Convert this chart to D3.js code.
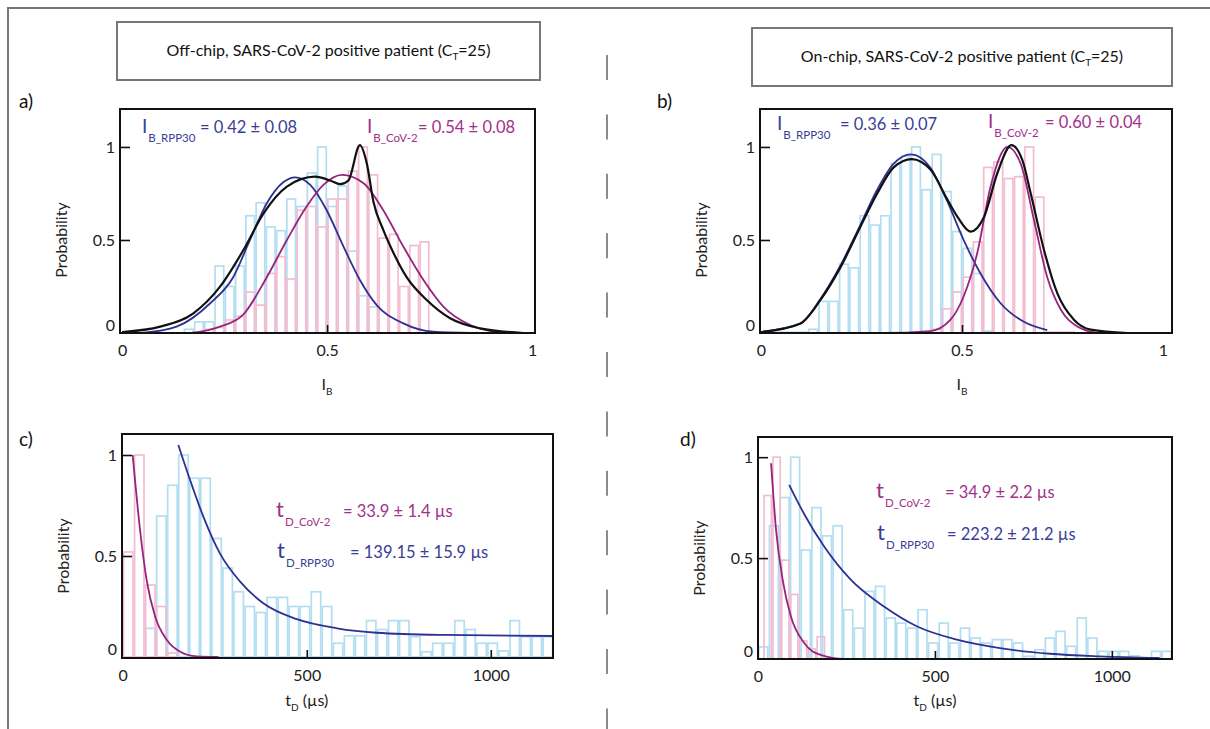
<!DOCTYPE html>
<html>
<head>
<meta charset="utf-8">
<script src="https://cdn.jsdelivr.net/npm/d3@7"></script>
<style>
  body { margin: 0; background: #fff; }
  svg { display: block; font-family: Lato, "Open Sans", sans-serif; }
</style>
</head>
<body>
<div id="wrapper"></div>
<script>
// ---------- data ----------
const ibTicks = [0, 0.5, 1]
const tdTicks = [0, 500, 1000]
const probTicks = [0, 0.5, 1]

// a) off-chip, blockage current I_B (bin 0.025)
const aBinWidth = 0.025
const aRppStart = 0.15
const aRppHist = [0.02, 0.06, 0.06, 0.36, 0.25, 0.36, 0.63, 0.70, 0.57, 0.55, 0.72, 0.68, 0.86, 1.00, 0.68, 0.79, 0.44, 0.20, 0.14]
const aCovStart = 0.2
const aCovHist = [0.02, 0.03, 0.07, 0.09, 0.22, 0.15, 0.32, 0.41, 0.29, 0.66, 0.68, 0.57, 0.72, 0.72, 0.87, 1.00, 0.85, 0.51, 0.53, 0.25, 0.47, 0.49]
const aRppFit = [[0.048, 0], [0.133, 0.034], [0.215, 0.16], [0.271, 0.30], [0.312, 0.5], [0.353, 0.697], [0.393, 0.81], [0.422, 0.837], [0.459, 0.796], [0.499, 0.66], [0.54, 0.464], [0.58, 0.285], [0.621, 0.15], [0.686, 0.052], [0.759, 0.007], [0.853, 0]]
const aCovFit = [[0.17, 0], [0.239, 0.034], [0.296, 0.1], [0.353, 0.3], [0.402, 0.5], [0.45, 0.68], [0.491, 0.796], [0.536, 0.85], [0.589, 0.805], [0.637, 0.66], [0.686, 0.464], [0.735, 0.285], [0.784, 0.141], [0.849, 0.043], [0.926, 0]]
const aSumFit = [[0, 0.005], [0.093, 0.034], [0.174, 0.106], [0.239, 0.249], [0.296, 0.446], [0.345, 0.643], [0.402, 0.787], [0.471, 0.84], [0.507, 0.82], [0.532, 0.80], [0.552, 0.82], [0.58, 1.01], [0.597, 0.91], [0.613, 0.706], [0.637, 0.554], [0.662, 0.43], [0.694, 0.30], [0.743, 0.177], [0.8, 0.079], [0.873, 0.025], [0.979, 0]]

// b) on-chip, I_B
const bBinWidth = 0.0256
const bRppStart = 0.0144
const bRppHist = [0.004, 0.004, 0.004, 0.004, 0.02, 0.17, 0.17, 0.37, 0.35, 0.63, 0.58, 0.63, 0.91, 0.95, 1.00, 0.77, 0.96, 0.76, 0.545, 0.455, 0.32, 0.01]
const bCovStart = 0.424
const bCovHist = [0.02, 0.13, 0.22, 0.30, 0.49, 0.89, 0.92, 0.83, 0.84, 1.00, 0.73, 0.005, 0.005, 0.005]
const bRppFit = [[0.002, 0.006], [0.097, 0.05], [0.147, 0.18], [0.197, 0.36], [0.247, 0.58], [0.289, 0.77], [0.33, 0.91], [0.373, 0.96], [0.421, 0.89], [0.463, 0.71], [0.504, 0.5], [0.546, 0.32], [0.596, 0.16], [0.654, 0.06], [0.712, 0.016]]
const bCovFit = [[0, 0], [0.3, 0], [0.421, 0.01], [0.471, 0.07], [0.504, 0.196], [0.538, 0.43], [0.571, 0.786], [0.613, 1.0], [0.646, 0.91], [0.679, 0.607], [0.712, 0.30], [0.746, 0.125], [0.787, 0.035], [0.837, 0]]
const bSumFit = [[0, 0.005], [0.097, 0.05], [0.147, 0.175], [0.197, 0.35], [0.247, 0.57], [0.289, 0.75], [0.33, 0.89], [0.375, 0.935], [0.421, 0.88], [0.463, 0.72], [0.49, 0.62], [0.521, 0.545], [0.555, 0.625], [0.588, 0.86], [0.623, 1.01], [0.65, 0.93], [0.671, 0.75], [0.704, 0.446], [0.737, 0.214], [0.779, 0.07], [0.82, 0.018], [0.912, 0]]

// c) off-chip, dwell time t_D in µs (bin 30 µs)
const cBinWidth = 30
const cRppStart = 60
const cRppHist = [0.142, 0.698, 0.85, 1.00, 0.885, 0.885, 0.587, 0.44, 0.323, 0.25, 0.22, 0.295, 0.295, 0.25, 0.25, 0.323, 0.25, 0.068, 0.105, 0.105, 0.18, 0.136, 0.18, 0.18, 0.1, 0.026, 0.068, 0.068, 0.18, 0.136, 0.068, 0.068, 0.03, 0.18, 0.1, 0.1, 0.1]
const cCovStart = 0
const cCovHist = [0.52, 1.00, 0.356, 0.25, 0.02]
const cCovFit = [[27, 1.0], [47, 0.63], [65, 0.38], [88, 0.2], [120, 0.084], [156, 0.026], [201, 0.003], [260, 0]]
const cRppFit = [[151, 1.05], [183, 0.876], [219, 0.695], [264, 0.513], [319, 0.373], [382, 0.266], [473, 0.187], [582, 0.142], [690, 0.12], [871, 0.109], [1170, 0.104]]

// d) on-chip, t_D
const dBinWidth = 30
const dRppStart = 0
const dRppHist = [0.06, 0.66, 0.80, 1.00, 0.54, 0.75, 0.61, 0.66, 0.244, 0.153, 0.335, 0.36, 0.203, 0.178, 0.153, 0.244, 0.079, 0.178, 0.079, 0.153, 0.104, 0.079, 0.096, 0.096, 0.079, 0.013, 0.046, 0.104, 0.137, 0.063, 0.203, 0.104, 0.038, 0.038, 0.038, 0.016, 0.005, 0.038, 0.038]
const dCovBinWidth = 25
const dCovStart = 15
const dCovHist = [0.81, 1.00, 0.49, 0.32, 0.09, 0.05, 0.11]
const dCovFit = [[37, 0.97], [51, 0.64], [70, 0.39], [93, 0.21], [130, 0.08], [177, 0.02], [243, 0], [755, 0]]
const dRppFit = [[88, 0.863], [130, 0.72], [187, 0.557], [262, 0.393], [356, 0.26], [450, 0.161], [562, 0.096], [684, 0.054], [825, 0.026], [966, 0.013], [1135, 0.005]]

// ---------- styling ----------
const navy = "#2e3192"
const magenta = "#96247f"
const navyText = "#3a3d96"
const pinkText = "#a2318a"
const barBlue = "#b3def2"
const barPink = "#f3bdd1"

const width = 1210
const height = 729

const svg = d3.select("#wrapper")
  .append("svg")
    .attr("width", width)
    .attr("height", height)

// outer figure border (top + left) and dashed divider
svg.append("path")
  .attr("d", `M8,729 L8,8 L1210,8`)
  .attr("fill", "none")
  .attr("stroke", "#777")
  .attr("stroke-width", 2)

svg.append("line")
  .attr("x1", 607).attr("x2", 607)
  .attr("y1", 55).attr("y2", 729)
  .attr("stroke", "#666")
  .attr("stroke-width", 1.5)
  .attr("stroke-dasharray", "25,34.4")

// title boxes
function titleBox(x, y, w, h, label) {
  svg.append("rect")
    .attr("x", x).attr("y", y)
    .attr("width", w).attr("height", h)
    .attr("fill", "#fff")
    .attr("stroke", "#777")
    .attr("stroke-width", 2)
  const t = svg.append("text")
    .attr("x", x + w / 2)
    .attr("y", y + h / 2 + 5)
    .attr("text-anchor", "middle")
    .attr("font-size", 16)
    .attr("fill", "#111")
  t.append("tspan").text(label + " (C")
  t.append("tspan").attr("font-size", 10).attr("dy", 4).text("T")
  t.append("tspan").attr("dy", -4).text("=25)")
}
titleBox(117, 22, 423, 58, "Off-chip, SARS-CoV-2 positive patient")
titleBox(752, 28, 420, 58, "On-chip, SARS-CoV-2 positive patient")

// annotation like  I_B_RPP30 = 0.42 ± 0.08
function formula(x, y, main, mainSize, sub, value, valueX, color) {
  const t = svg.append("text")
    .attr("x", x).attr("y", y)
    .attr("fill", color)
  t.append("tspan").attr("font-size", mainSize).text(main)
  t.append("tspan").attr("font-size", 11.5).attr("dy", 9).attr("dx", 1).text(sub)
  t.append("tspan").attr("font-size", 16.5).attr("x", valueX).attr("dy", -9).text(value)
}

function drawPanel(p) {
  const xScale = d3.scaleLinear()
    .domain(p.xDomain)
    .range([p.left, p.right])
  const yScale = d3.scaleLinear()
    .domain(p.yDomain)
    .range([p.bottom, p.top])

  const bounds = svg.append("g")

  // histograms (outlined bars)
  p.hists.forEach(h => {
    const bw = xScale(h.width) - xScale(0)
    bounds.append("g")
      .selectAll("rect")
      .data(h.values)
      .join("rect")
        .attr("x", (d, i) => xScale(h.start + i * h.width) + 0.8)
        .attr("width", bw - 1.6)
        .attr("y", d => yScale(d))
        .attr("height", d => yScale(0) - yScale(d))
        .attr("fill", "none")
        .attr("stroke", h.color)
        .attr("stroke-width", 1.7)
  })

  // fitted curves
  const lineGenerator = d3.line()
    .x(d => xScale(d[0]))
    .y(d => yScale(d[1]))
    .curve(d3.curveMonotoneX)

  p.curves.forEach(c => {
    bounds.append("path")
      .attr("d", lineGenerator(c.points))
      .attr("fill", "none")
      .attr("stroke", c.color)
      .attr("stroke-width", c.w || 1.8)
  })

  // frame
  bounds.append("rect")
    .attr("x", p.left).attr("y", p.top)
    .attr("width", p.right - p.left)
    .attr("height", p.bottom - p.top)
    .attr("fill", "none")
    .attr("stroke", "#111")
    .attr("stroke-width", 2)

  // axes, ticks pointing inward
  const yAxis = bounds.append("g")
    .attr("transform", `translate(${p.left},0)`)
    .call(d3.axisLeft(yScale).tickValues(probTicks).tickSize(-10).tickPadding(5).tickFormat(d3.format("~g")))
  yAxis.select(".domain").remove()
  yAxis.selectAll(".tick").filter(d => d === 0).select("line").remove()
  yAxis.selectAll(".tick").filter(d => d === 0).select("text").attr("y", -8)

  const xAxis = bounds.append("g")
    .attr("transform", `translate(0,${p.bottom})`)
    .call(d3.axisBottom(xScale).tickValues(p.ticks).tickSize(-8).tickPadding(12).tickFormat(d3.format("~g")))
  xAxis.select(".domain").remove()
  xAxis.selectAll(".tick").filter(d => d === p.ticks[0] || d === 1).select("line").remove()

  bounds.selectAll(".tick line").attr("stroke", "#111").attr("stroke-width", 1.6)
  bounds.selectAll(".tick text")
    .attr("font-family", "Lato, sans-serif")
    .attr("font-size", 16)
    .attr("fill", "#222")

  // axis titles
  svg.append("text")
    .attr("transform", `translate(${p.left - 53},${yScale(0.5)}) rotate(-90)`)
    .attr("text-anchor", "middle")
    .attr("font-size", 16)
    .attr("fill", "#222")
    .text("Probability")

  const xl = svg.append("text")
    .attr("x", xScale(p.ticks[1]))
    .attr("y", p.xLabelY)
    .attr("text-anchor", "middle")
    .attr("font-size", 16)
    .attr("fill", "#222")
  xl.append("tspan").text(p.xLabel[0])
  xl.append("tspan").attr("font-size", 10).attr("dy", 5).text(p.xLabel[1])
  xl.append("tspan").attr("dy", -5).text(p.xLabel[2])

  svg.append("text")
    .attr("x", p.letterX).attr("y", p.letterY)
    .attr("font-size", 19)
    .attr("fill", "#111")
    .text(p.letter)
}

drawPanel({
  letter: "a)", letterX: 19, letterY: 108,
  left: 120, right: 535, top: 109, bottom: 333,
  xDomain: [-0.005, 1.007], yDomain: [0, 1.204],
  ticks: ibTicks, xLabel: ["I", "B", ""], xLabelY: 390,
  hists: [
    { start: aRppStart, width: aBinWidth, values: aRppHist, color: barBlue },
    { start: aCovStart, width: aBinWidth, values: aCovHist, color: barPink },
  ],
  curves: [
    { points: aRppFit, color: navy },
    { points: aCovFit, color: magenta },
    { points: aSumFit, color: "#111", w: 2.2 },
  ],
})

drawPanel({
  letter: "b)", letterX: 657, letterY: 108,
  left: 760, right: 1172, top: 109, bottom: 333,
  xDomain: [-0.0025, 1.0224], yDomain: [0, 1.204],
  ticks: ibTicks, xLabel: ["I", "B", ""], xLabelY: 390,
  hists: [
    { start: bRppStart, width: bBinWidth, values: bRppHist, color: barBlue },
    { start: bCovStart, width: bBinWidth, values: bCovHist, color: barPink },
  ],
  curves: [
    { points: bRppFit, color: navy },
    { points: bCovFit, color: magenta },
    { points: bSumFit, color: "#111", w: 2.2 },
  ],
})

drawPanel({
  letter: "c)", letterX: 19, letterY: 446,
  left: 122, right: 553, top: 434, bottom: 658,
  xDomain: [-2, 1169], yDomain: [-0.005, 1.104],
  ticks: tdTicks, xLabel: ["t", "D", " (µs)"], xLabelY: 706,
  hists: [
    { start: cRppStart, width: cBinWidth, values: cRppHist, color: barBlue },
    { start: cCovStart, width: cBinWidth, values: cCovHist, color: barPink },
  ],
  curves: [
    { points: cCovFit, color: magenta },
    { points: cRppFit, color: navy },
  ],
})

drawPanel({
  letter: "d)", letterX: 680, letterY: 446,
  left: 758, right: 1172, top: 437, bottom: 659,
  xDomain: [0, 1170], yDomain: [0, 1.1],
  ticks: tdTicks, xLabel: ["t", "D", " (µs)"], xLabelY: 706,
  hists: [
    { start: dRppStart, width: dBinWidth, values: dRppHist, color: barBlue },
    { start: dCovStart, width: dCovBinWidth, values: dCovHist, color: barPink },
  ],
  curves: [
    { points: dCovFit, color: magenta },
    { points: dRppFit, color: navy },
  ],
})

// fit results
formula(142, 133, "I", 19, "B_RPP30", "= 0.42 ± 0.08", 200, navyText)
formula(367, 133, "I", 19, "B_CoV-2", "= 0.54 ± 0.08", 418, pinkText)
formula(777, 130, "I", 19, "B_RPP30", "= 0.36 ± 0.07", 840, navyText)
formula(988, 128, "I", 19, "B_CoV-2", "= 0.60 ± 0.04", 1045, pinkText)
formula(276, 517, "t", 22, "D_CoV-2", "= 33.9 ± 1.4 µs", 343, pinkText)
formula(277, 558, "t", 22, "D_RPP30", "= 139.15 ± 15.9 µs", 350, navyText)
formula(876, 498, "t", 22, "D_CoV-2", "= 34.9 ± 2.2 µs", 945, pinkText)
formula(877, 540, "t", 22, "D_RPP30", "= 223.2 ± 21.2 µs", 947, navyText)
</script>
</body>
</html>
